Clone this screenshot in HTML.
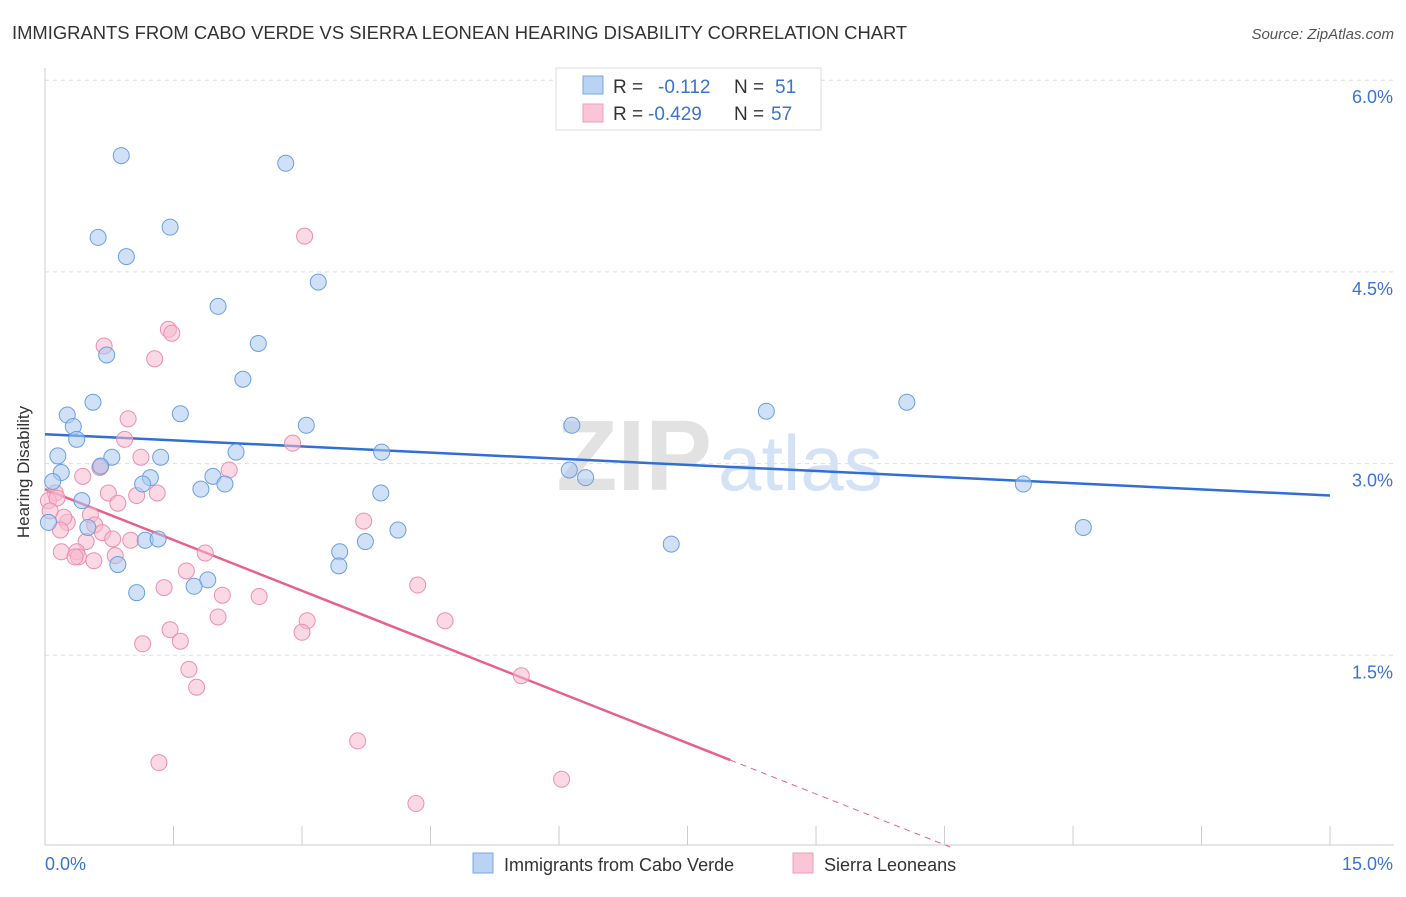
<!DOCTYPE html>
<html><head><meta charset="utf-8"><style>
body{margin:0;background:#fff;font-family:"Liberation Sans",sans-serif;}
svg text{font-family:"Liberation Sans",sans-serif;}
</style></head><body>
<svg id="chart" width="1406" height="892" xmlns="http://www.w3.org/2000/svg">
<text x="12" y="39" font-size="18.4" fill="#333">IMMIGRANTS FROM CABO VERDE VS SIERRA LEONEAN HEARING DISABILITY CORRELATION CHART</text>
<text x="1394" y="39" font-size="15" fill="#555" font-style="italic" text-anchor="end">Source: ZipAtlas.com</text>
<g><text x="712" y="490" font-size="100" fill="#e2e2e2" text-anchor="end" font-weight="bold">ZIP</text><text x="718" y="490" font-size="78" fill="#d3e2f5" >atlas</text></g>
<g id="grid"></g>
<g id="axes"></g>
<g id="lines"></g>
<g id="pts"></g>
<text x="12" y="455" font-size="17" fill="#333" text-anchor="middle" transform="rotate(-90 29 455)">Hearing Disability</text>
<g>
<rect x="556" y="68" width="265" height="62" fill="#fff" stroke="#ddd"/>
<rect x="583" y="76" width="20" height="18" fill="#b8d3f3" stroke="#7aa7e3"/>
<rect x="583" y="104" width="20" height="18" fill="#fac6d6" stroke="#ee9fb9"/>
<text x="613" y="93" font-size="19" fill="#333">R =</text><text x="658" y="93" font-size="19" fill="#3b73d1">-0.112</text>
<text x="734" y="93" font-size="19" fill="#333">N =</text><text x="775" y="93" font-size="19" fill="#3b73d1">51</text>
<text x="613" y="120" font-size="19" fill="#333">R =</text><text x="648" y="120" font-size="19" fill="#3b73d1">-0.429</text>
<text x="734" y="120" font-size="19" fill="#333">N =</text><text x="771" y="120" font-size="19" fill="#3b73d1">57</text>
</g>
<g><rect x="473" y="853" width="20" height="20" fill="#b8d3f3" stroke="#7aa7e3"/><text x="504" y="871" font-size="18" fill="#333">Immigrants from Cabo Verde</text></g>
<g><rect x="793" y="853" width="20" height="20" fill="#fac6d6" stroke="#ee9fb9"/><text x="824" y="871" font-size="18" fill="#333">Sierra Leoneans</text></g>
</svg>
<script>
const blueX=[0.89,2.81,1.46,0.62,0.95,3.19,2.02,2.49,0.72,2.31,0.56,0.26,1.58,0.33,0.37,3.05,2.23,3.93,0.15,0.78,1.35,0.65,0.19,1.23,1.96,1.14,0.09,2.10,1.82,3.92,0.43,0.50,4.12,1.17,1.32,3.74,3.44,0.85,3.43,1.90,1.07,1.74,0.04,6.15,6.12,6.31,8.42,10.06,11.42,12.12,7.31];
const blueY=[5.41,5.35,4.85,4.77,4.62,4.42,4.23,3.94,3.85,3.66,3.48,3.38,3.39,3.29,3.19,3.30,3.09,3.09,3.06,3.05,3.05,2.98,2.93,2.89,2.90,2.84,2.86,2.84,2.80,2.77,2.71,2.50,2.48,2.40,2.41,2.39,2.31,2.21,2.20,2.09,1.99,2.04,2.54,3.30,2.95,2.89,3.41,3.48,2.84,2.50,2.37];
const pinkX=[3.03,1.44,1.48,0.69,1.28,0.97,0.93,2.89,0.65,2.15,0.44,0.12,0.74,1.07,1.31,0.04,0.14,0.85,0.53,0.26,0.22,0.58,0.67,1.00,0.79,0.48,0.19,0.82,0.37,0.39,0.57,1.87,3.72,1.65,4.35,1.39,2.07,2.50,2.02,3.06,4.67,1.46,3.00,1.14,1.58,1.68,1.77,5.56,3.65,1.33,6.03,4.33,0.06,0.18,1.12,0.64,0.35];
const pinkY=[4.78,4.05,4.02,3.92,3.82,3.35,3.19,3.16,2.98,2.95,2.90,2.77,2.77,2.75,2.77,2.71,2.73,2.69,2.60,2.54,2.58,2.52,2.46,2.40,2.41,2.39,2.31,2.28,2.31,2.27,2.24,2.30,2.55,2.16,2.05,2.03,1.97,1.96,1.80,1.77,1.77,1.70,1.68,1.59,1.61,1.39,1.25,1.34,0.83,0.66,0.53,0.34,2.63,2.48,3.05,2.97,2.27];
const blueTrend=[3.23,2.75];
const pinkTrend=[2.80,-0.265];
const yTicks=[1.5,3.0,4.5,6.0];
const yTickLabels=["1.5%","3.0%","4.5%","6.0%"];
const xTicks=[0,1.5,3,4.5,6,7.5,9,10.5,12,13.5,15];
const NS="http://www.w3.org/2000/svg";
const sx=v=>45+v*85.67, sy=v=>847-v*127.8;
function mk(t,a,p){const e=document.createElementNS(NS,t);for(const k in a)e.setAttribute(k,a[k]);p.appendChild(e);return e;}
const grid=document.getElementById('grid'),axes=document.getElementById('axes'),lines=document.getElementById('lines'),pts=document.getElementById('pts');
yTicks.forEach((v,i)=>{
 const l=mk('line',{x1:45,x2:1394,y1:sy(v),y2:sy(v),stroke:'#ddd','stroke-dasharray':'4 4'},grid);
 
 
 const t=mk('text',{x:1393,y:sy(v)+23,'font-size':18,fill:'#3b73d1','text-anchor':'end'},axes);
 t.textContent=yTickLabels[i];
 
 
});
mk('line',{x1:45,x2:45,y1:68,y2:845,stroke:'#ccc'},axes);
mk('line',{x1:45,x2:1394,y1:845,y2:845,stroke:'#ccc'},axes);
xTicks.forEach(v=>{const t=mk('line',{x1:sx(v),x2:sx(v),y1:826,y2:845,stroke:'#ccc'},axes);
 
 });
const xl=mk('text',{x:45,y:870,'font-size':18,fill:'#3b73d1'},axes);xl.textContent='0.0%';


const xr=mk('text',{x:1393,y:870,'font-size':18,fill:'#3b73d1','text-anchor':'end'},axes);xr.textContent='15.0%';


function dots(X,Y,fill,stroke,name){X.forEach((x,i)=>{const c=mk('circle',{cx:sx(x),cy:sy(Y[i]),r:8,fill:fill,'fill-opacity':0.55,stroke:stroke,'stroke-width':1},pts);
 
 });}
dots(pinkX,pinkY,'#f7b9cd','#eb8fae','sierra-leonean-point');
dots(blueX,blueY,'#a9c8f0','#6a9fe0','cabo-verde-point');
const bl=mk('line',{x1:sx(0),y1:sy(blueTrend[0]),x2:sx(15),y2:sy(blueTrend[1]),stroke:'#2f6fd6','stroke-width':2.5},lines);


const pEnd=8.0, pZero=-pinkTrend[0]/pinkTrend[1];
const pl=mk('line',{x1:sx(0),y1:sy(pinkTrend[0]),x2:sx(pEnd),y2:sy(pinkTrend[0]+pinkTrend[1]*pEnd),stroke:'#e8608c','stroke-width':2.5},lines);


const pd=mk('line',{x1:sx(pEnd),y1:sy(pinkTrend[0]+pinkTrend[1]*pEnd),x2:sx(pZero),y2:sy(0),stroke:'#e8608c','stroke-width':1,'stroke-dasharray':'6 5'},lines);


</script>
</body></html>
